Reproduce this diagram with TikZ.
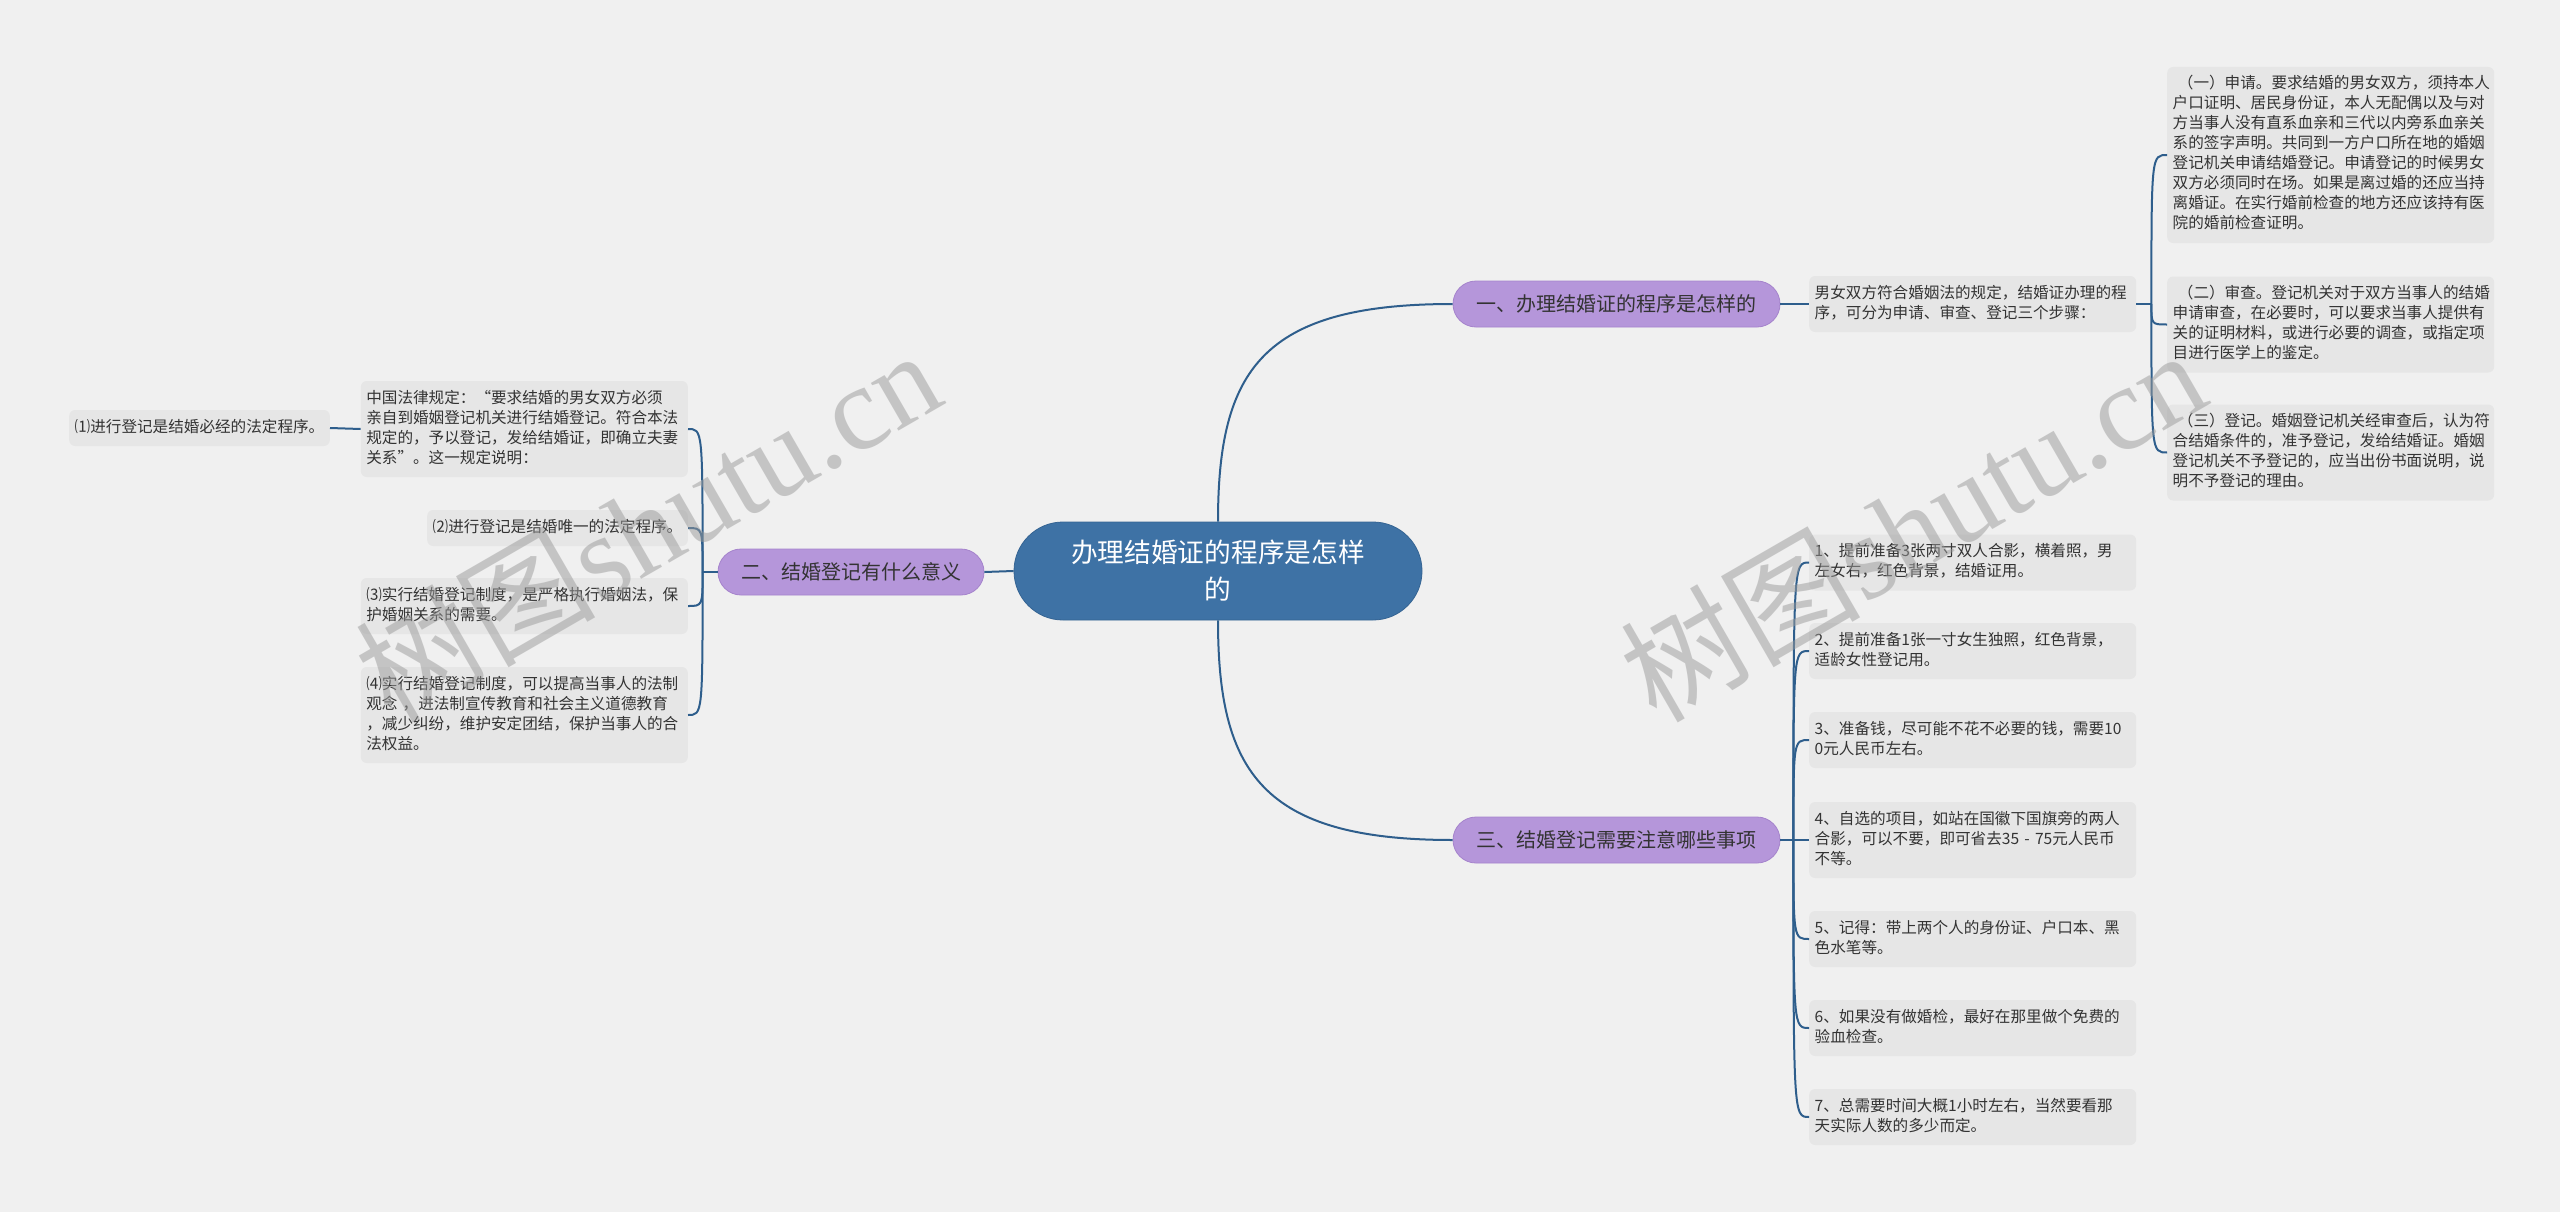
\documentclass[tikz,border=0pt]{standalone}
\usepackage{fontspec}
\setmainfont{Noto Sans CJK SC}
\newfontfamily\wmlatin{Liberation Serif}
\newfontfamily\wmcjk{Noto Sans CJK SC}
\usetikzlibrary{calc}
\definecolor{bgc}{HTML}{F0F0F0}
\definecolor{boxc}{HTML}{E6E6E6}
\definecolor{txtc}{HTML}{333333}
\definecolor{cenc}{HTML}{3E72A5}
\definecolor{cend}{HTML}{356493}
\definecolor{purc}{HTML}{B596DA}
\definecolor{purd}{HTML}{A583CC}
\definecolor{linec}{HTML}{2E5E8C}
\definecolor{wmc}{HTML}{9A9A9A}
\newcommand\smallcn{\fontsize{15.6}{20}\selectfont}
\tikzset{
  box/.style={fill=boxc, rounded corners=6pt, inner xsep=5.5pt, inner ysep=8pt,
    align=left, font=\smallcn, text=txtc,
    execute at begin node=\strut, execute at end node=\strut},
  wbox/.style={box, text width=316pt},
  lvl/.style={fill=purc, draw=purd, line width=0.8pt, rounded corners=23pt,
    minimum height=46pt, inner sep=0pt, font=\fontsize{20}{24}\selectfont, text=txtc},
  cen/.style={fill=cenc, draw=cend, line width=0.8pt, rounded corners=49pt,
    minimum width=408pt, minimum height=98pt, inner sep=0pt, align=center,
    font=\fontsize{26.7}{37}\selectfont, text=white},
  conn/.style={draw=linec, line width=2pt},
  wm/.style={text=wmc, text opacity=0.5, font=\fontsize{120}{130}\selectfont, inner sep=0pt}
}
\begin{document}
\begin{tikzpicture}[x=1pt,y=-1pt]
\fill[bgc] (0,0) rectangle (2560,1212);
\useasboundingbox (0,0) rectangle (2560,1212);

% central and level-1
\node[cen] (C) at (1218,571) {办理结婚证的程序是怎样\\的};
\node[lvl, minimum width=327pt] (n1) at (1616.5,304) {一、办理结婚证的程序是怎样的};
\node[lvl, minimum width=327pt] (n3) at (1616.5,840) {三、结婚登记需要注意哪些事项};
\node[lvl, minimum width=266pt] (n2) at (851,572) {二、结婚登记有什么意义};

% upper right
\node[wbox, anchor=west] (b0) at (1809,304) {男女双方符合婚姻法的规定，结婚证办理的程\\序，可分为申请、审查、登记三个步骤：};
\node[wbox, anchor=west] (a1) at (2167,155) {\ （一）申请。要求结婚的男女双方，须持本人\\户口证明、居民身份证，本人无配偶以及与对\\方当事人没有直系血亲和三代以内旁系血亲关\\系的签字声明。共同到一方户口所在地的婚姻\\登记机关申请结婚登记。申请登记的时候男女\\双方必须同时在场。如果是离过婚的还应当持\\离婚证。在实行婚前检查的地方还应该持有医\\院的婚前检查证明。};
\node[wbox, anchor=west] (a2) at (2167,324.5) {\ （二）审查。登记机关对于双方当事人的结婚\\申请审查，在必要时，可以要求当事人提供有\\关的证明材料，或进行必要的调查，或指定项\\目进行医学上的鉴定。};
\node[wbox, anchor=west] (a3) at (2167,452.5) {\ （三）登记。婚姻登记机关经审查后，认为符\\合结婚条件的，准予登记，发给结婚证。婚姻\\登记机关不予登记的，应当出份书面说明，说\\明不予登记的理由。};

% lower right
\node[wbox, anchor=west] (c1) at (1809,562.5) {1、提前准备3张两寸双人合影，横着照，男\\左女右，红色背景，结婚证用。};
\node[wbox, anchor=west] (c2) at (1809,651) {2、提前准备1张一寸女生独照，红色背景，\\适龄女性登记用。};
\node[wbox, anchor=west] (c3) at (1809,740) {3、准备钱，尽可能不花不必要的钱，需要10\\0元人民币左右。};
\node[wbox, anchor=west] (c4) at (1809,840) {4、自选的项目，如站在国徽下国旗旁的两人\\合影，可以不要，即可省去35 - 75元人民币\\不等。};
\node[wbox, anchor=west] (c5) at (1809,939) {5、记得：带上两个人的身份证、户口本、黑\\色水笔等。};
\node[wbox, anchor=west] (c6) at (1809,1028) {6、如果没有做婚检，最好在那里做个免费的\\验血检查。};
\node[wbox, anchor=west] (c7) at (1809,1117) {7、总需要时间大概1小时左右，当然要看那\\天实际人数的多少而定。};

% left
\node[wbox, anchor=east] (l1) at (688,429) {中国法律规定：“要求结婚的男女双方必须\\亲自到婚姻登记机关进行结婚登记。符合本法\\规定的，予以登记，发给结婚证，即确立夫妻\\关系”。这一规定说明：};
\node[box, anchor=east] (l0) at (330,428) {⑴进行登记是结婚必经的法定程序。};
\node[box, anchor=east] (l2) at (688,528) {⑵进行登记是结婚唯一的法定程序。};
\node[wbox, anchor=east] (l3) at (688,606) {⑶实行结婚登记制度，是严格执行婚姻法，保\\护婚姻关系的需要。};
\node[wbox, anchor=east] (l4) at (688,715) {⑷实行结婚登记制度，可以提高当事人的法制\\观念 ，进法制宣传教育和社会主义道德教育\\，减少纠纷，维护安定团结，保护当事人的合\\法权益。};

% connectors
\draw[conn] (C.north) .. controls (1218,370) and (1262,304) .. (n1.west);
\draw[conn] (C.south) .. controls (1218,772) and (1262,840) .. (n3.west);
\draw[conn] (C.west) -- (n2.east);
\draw[conn] (n1.east) -- (b0.west);
\draw[conn] (b0.east) -- ++(15,0) coordinate (j1);
\foreach \c in {a1,a2,a3}
  \draw[conn] (j1) .. controls (j1 |- \c.west) and (j1 |- \c.west) .. (\c.west);
\draw[conn] (n3.east) -- ++(13,0) coordinate (j3);
\foreach \c in {c1,c2,c3,c4,c5,c6,c7}
  \draw[conn] (j3) .. controls (j3 |- \c.west) and (j3 |- \c.west) .. (\c.west);
\draw[conn] (n2.west) -- ++(-15,0) coordinate (j2);
\foreach \c in {l1,l2,l3,l4}
  \draw[conn] (j2) .. controls (j2 |- \c.east) and (j2 |- \c.east) .. (\c.east);
\draw[conn] (l1.west) -- (l0.east);

% watermarks
\node[wm, rotate=30] (w1) at (647,524) {\wmcjk 树图\wmlatin shutu.cn};
\node[wm, rotate=30] (w2) at (1912,524) {\wmcjk 树图\wmlatin shutu.cn};
\end{tikzpicture}
\end{document}
